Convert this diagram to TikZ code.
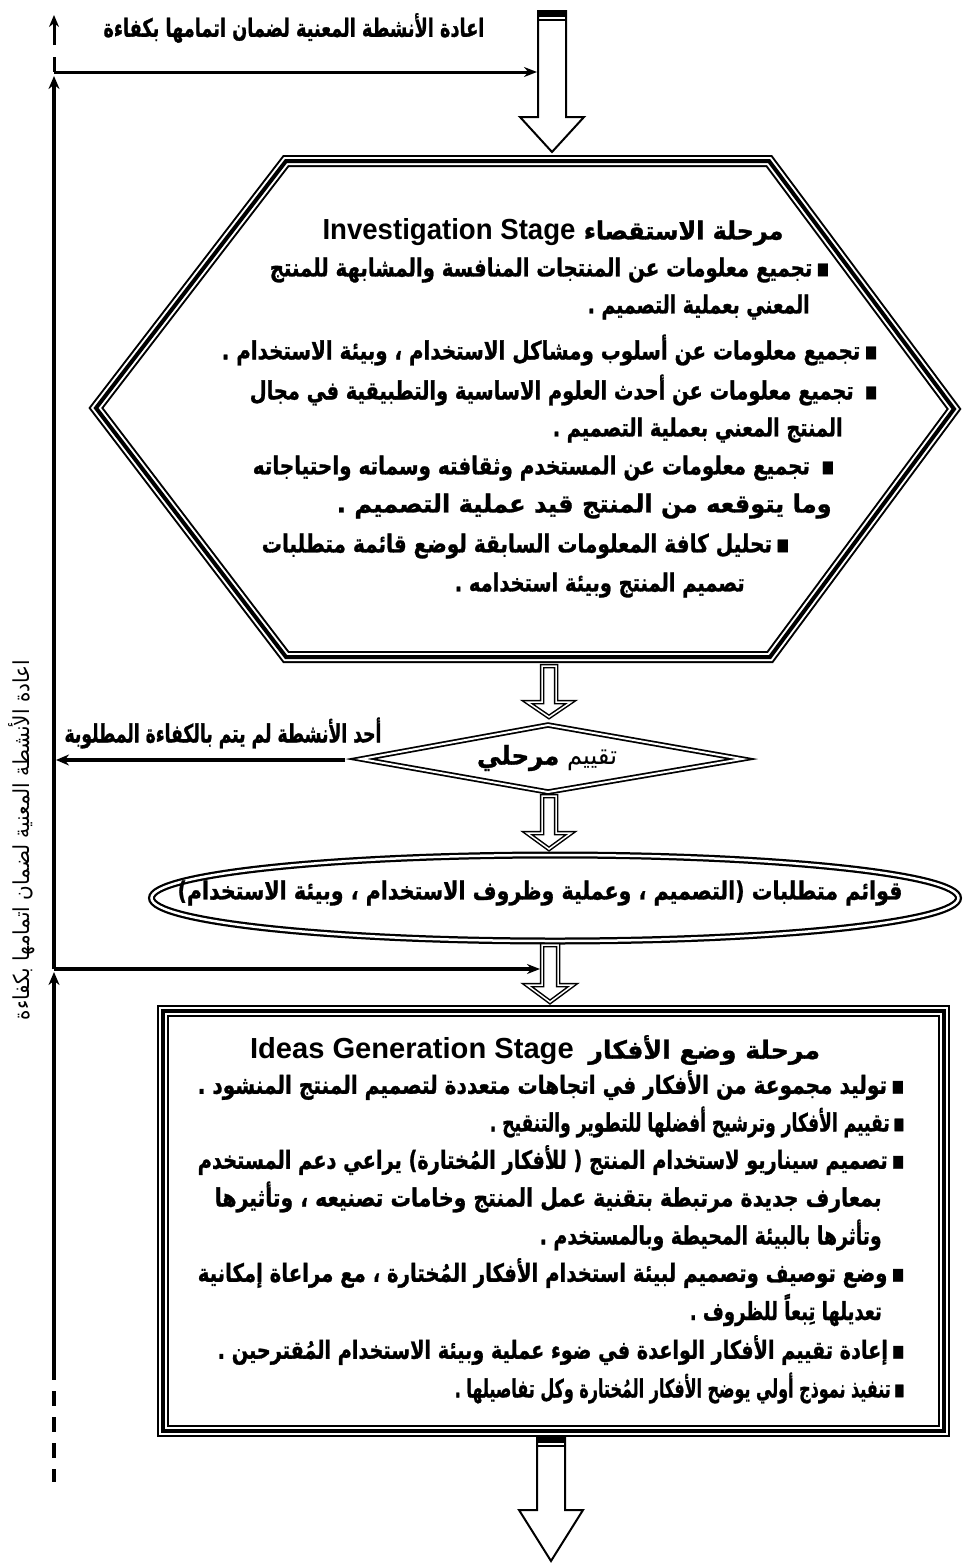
\documentclass[tikz,border=0pt]{standalone}
\usepackage{fontspec}
\usepackage{graphicx}
\usetikzlibrary{arrows.meta}
\TeXXeTstate=1
\setmainfont{Liberation Sans}
\newfontfamily\arb[Script=Arabic,BoldFeatures={FakeBold=1.2}]{DejaVu Sans}
\newfontfamily\lat{Liberation Sans}
\newcommand{\ARB}[2]{\resizebox{#1pt}{\height}{\fontsize{25}{28}\selectfont\arb\bfseries #2}}
\newcommand{\ARR}[2]{\resizebox{#1pt}{\height}{\fontsize{22}{26}\selectfont\arb #2}}
\newcommand{\LAT}[1]{{\fontsize{29}{30}\selectfont\lat\bfseries #1}}
\newcommand{\dblarrow}[6]{%
  \fill[white] (#1-#2,#4)--(#1-#2,#5)--(#1-#3,#5)--(#1,#6)--(#1+#3,#5)--(#1+#2,#5)--(#1+#2,#4)--cycle;
  \draw[line width=4.5pt] (#1-#2,#4)--(#1-#2,#5)--(#1-#3,#5)--(#1,#6)--(#1+#3,#5)--(#1+#2,#5)--(#1+#2,#4)--cycle;
  \draw[white,line width=1.5pt] (#1-#2,#4)--(#1-#2,#5)--(#1-#3,#5)--(#1,#6)--(#1+#3,#5)--(#1+#2,#5)--(#1+#2,#4)--cycle;}
\newcommand{\caparrow}[6]{%
  \draw[line width=2pt,fill=white] (#1-#2,#4)--(#1-#2,#5)--(#1-#3,#5)--(#1,#6)--(#1+#3,#5)--(#1+#2,#5)--(#1+#2,#4)--cycle;
  \fill (#1-#2,#4) rectangle (#1+#2,#4+6);
  \draw[line width=1.3pt] (#1-#2,#4+9)--(#1+#2,#4+9);}
\tikzset{
  lt/.style={inner sep=0pt, anchor=east},
  ct/.style={inner sep=0pt},
  conn/.style={line width=3.5pt, -{Stealth[length=13pt,width=11pt]}},
}
\begin{document}
\begin{tikzpicture}[x=1pt,y=-1pt,line join=miter,miter limit=20]
\useasboundingbox (0,0) rectangle (963,1564);
\fill[white] (0,0) rectangle (963,1564);

% ---------- hexagon (triple line)
\coordinate (hTL) at (286,161); \coordinate (hTR) at (769,161);
\coordinate (hR) at (954,409); \coordinate (hBR) at (770,657);
\coordinate (hBL) at (286,657); \coordinate (hL) at (96,408);
\draw[line width=12pt] (hTL)--(hTR)--(hR)--(hBR)--(hBL)--(hL)--cycle;
\draw[white,line width=8pt] (hTL)--(hTR)--(hR)--(hBR)--(hBL)--(hL)--cycle;
\draw[line width=4pt] (hTL)--(hTR)--(hR)--(hBR)--(hBL)--(hL)--cycle;

% ---------- rectangle (triple line)
\draw[line width=12pt] (163,1011) rectangle (944,1431);
\draw[white,line width=8pt] (163,1011) rectangle (944,1431);
\draw[line width=4pt] (163,1011) rectangle (944,1431);

% ---------- diamond (double line)
\coordinate (dT) at (548,725); \coordinate (dR) at (742,759);
\coordinate (dB) at (548,792); \coordinate (dL) at (361,759);
\draw[line width=5.5pt] (dT)--(dR)--(dB)--(dL)--cycle;
\draw[white,line width=2pt] (dT)--(dR)--(dB)--(dL)--cycle;

% ---------- ellipse (double line)
\draw[line width=7pt] (555,898) ellipse [x radius=403.5, y radius=43];
\draw[white,line width=2.5pt] (555,898) ellipse [x radius=403.5, y radius=43];

% ---------- hollow arrows
\caparrow{552}{14}{32}{11}{117}{152}
\dblarrow{549}{7}{22}{666}{702}{717}
\dblarrow{549}{7}{22}{796}{833}{849}
\dblarrow{550}{8}{23}{945}{985}{1002}
\caparrow{551}{14}{32}{1437}{1510}{1561}

% ---------- named points for connectors
\coordinate (sTop) at (54,15);
\coordinate (sBot) at (54,45);
\coordinate (jA) at (54,72);
\coordinate (jA0) at (54,57);
\coordinate (aIn) at (537,72);
\coordinate (jB) at (54,969);
\coordinate (bIn) at (540,969);
\coordinate (jC) at (56,760);
\coordinate (dLo) at (345,760);
\coordinate (lowEnd) at (54,1375);
\coordinate (dashEnd) at (54,1482);

\draw[line width=3pt,-{Stealth[length=12pt,width=10pt]}] (sBot) -- (sTop);
\draw[line width=3pt] (jA0) -- (jA);
\draw[line width=3pt,-{Stealth[length=13pt,width=10pt]}] (jA) -- (aIn);
\draw[conn] (jB) -- ([yshift=-4pt]jA);
\draw[conn] (lowEnd) -- ([yshift=-3pt]jB);
\draw[line width=3.5pt,dash pattern=on 15pt off 11pt] ([yshift=10pt]lowEnd) -- (dashEnd);
\draw[line width=3.5pt,-{Stealth[length=13pt,width=10pt]}] (jB) -- (bIn);
\draw[conn] (dLo) -- (jC);

% ---------- texts outside
\node[ct] (topTxt) at (294,28) {\ARB{381}{\beginR اعادة الأنشطة المعنية لضمان اتمامها بكفاءة\endR}};
\node[ct,rotate=90] (sideTxt) at (22,840) {\ARR{360}{\beginR اعادة الأنشطة المعنية لضمان اتمامها بكفاءة\endR}};
\node[ct] (lbl) at (223,733) {\ARB{317}{\beginR أحد الأنشطة لم يتم بالكفاءة المطلوبة\endR}};
\node[ct] (dTxt) at (547,758) {\resizebox{140pt}{\height}{\fontsize{26}{28}\selectfont\arb\beginR تقييم {\bfseries مرحلي}\endR}};
\node[ct] (eTxt) at (540,893) {\ARB{725}{\beginR قوائم متطلبات (التصميم ، وعملية وظروف الاستخدام ، وبيئة الاستخدام)\endR}};

% ---------- hexagon texts
\node[ct] (h0) at (553,232) {\ARB{461}{\beginR مرحلة الاستقصاء \beginL\LAT{Investigation Stage}\endL\endR}};
\node[lt] (h1) at (830,270) {\ARB{560}{\beginR ▪\hspace{5pt}تجميع معلومات عن المنتجات المنافسة والمشابهة للمنتج\endR}};
\node[lt] (h2) at (810,307) {\ARB{222}{\beginR المعني بعملية التصميم .\endR}};
\node[lt] (h3) at (878,350) {\ARB{656}{\beginR ▪\hspace{5pt}تجميع معلومات عن أسلوب ومشاكل الاستخدام ، وبيئة الاستخدام .\endR}};
\node[lt] (h4) at (878,390) {\ARB{628}{\beginR ▪\hspace{14pt}تجميع معلومات عن أحدث العلوم الاساسية والتطبيقية في مجال\endR}};
\node[lt] (h5) at (843,430) {\ARB{290}{\beginR المنتج المعني بعملية التصميم .\endR}};
\node[lt] (h6) at (835,468) {\ARB{582}{\beginR ▪\hspace{14pt}تجميع معلومات عن المستخدم وثقافته وسماته واحتياجاته\endR}};
\node[lt] (h7) at (832,506) {\ARB{495}{\beginR وما يتوقعه من المنتج قيد عملية التصميم .\endR}};
\node[lt] (h8) at (790,546) {\ARB{528}{\beginR ▪\hspace{5pt}تحليل كافة المعلومات السابقة لوضع قائمة  متطلبات\endR}};
\node[lt] (h9) at (745,585) {\ARB{290}{\beginR تصميم المنتج وبيئة استخدامه .\endR}};

% ---------- rectangle texts
\node[ct] (r0) at (535,1050) {\ARB{570}{\beginR مرحلة وضع الأفكار \hspace{6pt}\beginL\LAT{Ideas Generation Stage}\endL\endR}};
\node[lt] (r1) at (905,1085) {\ARB{707}{\beginR ▪\hspace{5pt}توليد مجموعة من الأفكار في اتجاهات متعددة لتصميم المنتج المنشود .\endR}};
\node[lt] (r2) at (905,1122) {\ARB{415}{\beginR ▪\hspace{5pt}تقييم الأفكار وترشيح أفضلها للتطوير والتنقيح .\endR}};
\node[lt] (r3) at (905,1160) {\ARB{707}{\beginR ▪\hspace{5pt}تصميم سيناريو لاستخدام المنتج ( للأفكار المُختارة) يراعي دعم المستخدم\endR}};
\node[lt] (r4) at (882,1197) {\ARB{667}{\beginR بمعارف جديدة مرتبطة بتقنية عمل المنتج وخامات تصنيعه ، وتأثيرها\endR}};
\node[lt] (r5) at (882,1235) {\ARB{342}{\beginR وتأثرها بالبيئة المحيطة وبالمستخدم .\endR}};
\node[lt] (r6) at (905,1273) {\ARB{707}{\beginR ▪\hspace{5pt}وضع توصيف وتصميم لبيئة استخدام الأفكار المُختارة ، مع مراعاة إمكانية\endR}};
\node[lt] (r7) at (882,1310) {\ARB{192}{\beginR تعديلها تِبعاً للظروف .\endR}};
\node[lt] (r8) at (905,1350) {\ARB{687}{\beginR ▪\hspace{5pt}إعادة تقييم الأفكار الواعدة في ضوء عملية وبيئة الاستخدام  المُقترحين .\endR}};
\node[lt] (r9) at (905,1388) {\ARB{450}{\beginR ▪\hspace{5pt}تنفيذ نموذج أولي يوضح الأفكار المُختارة وكل تفاصيلها .\endR}};
\end{tikzpicture}
\end{document}
